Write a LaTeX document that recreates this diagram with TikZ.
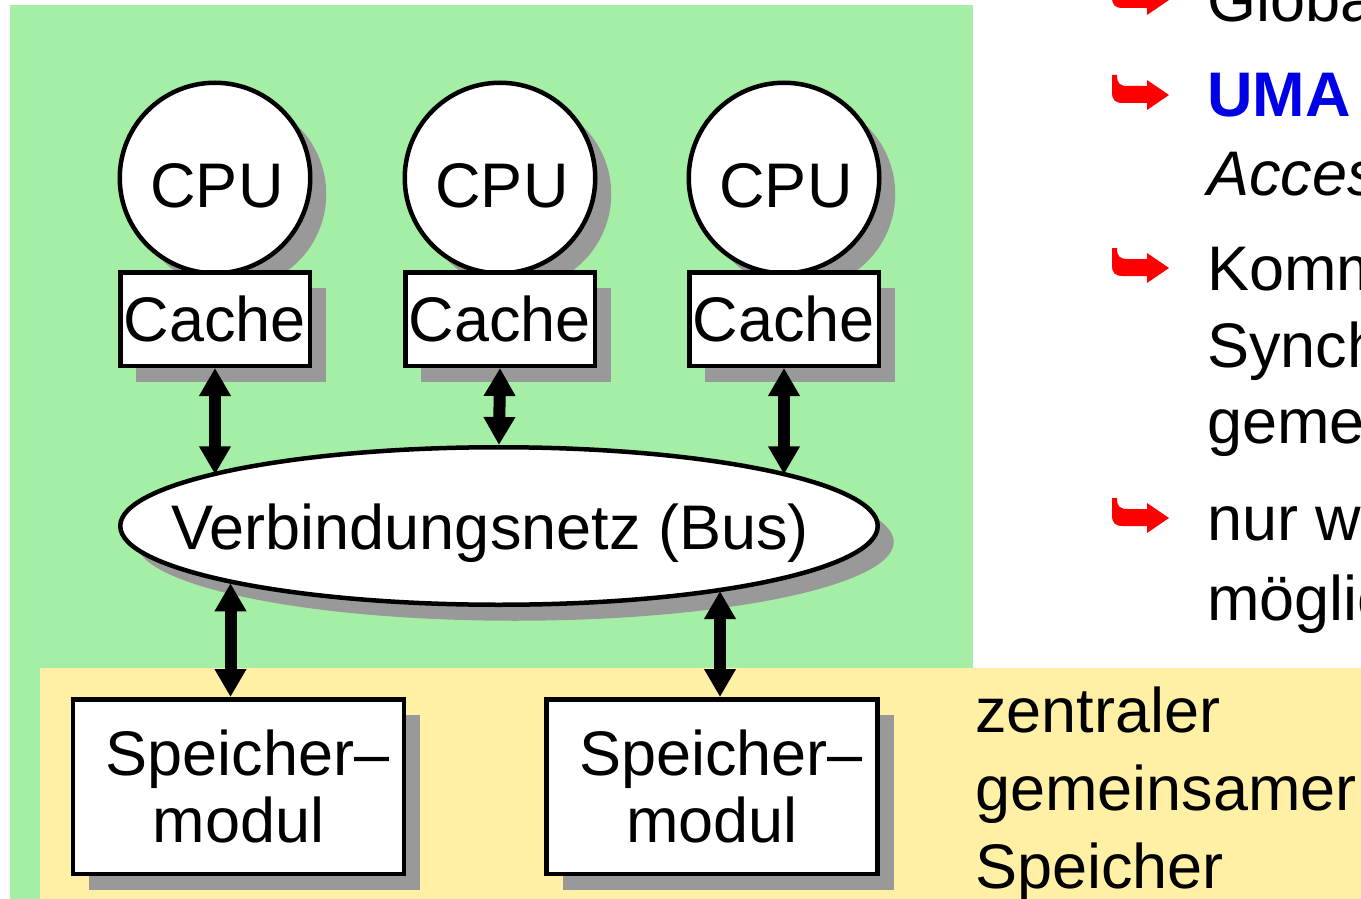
\documentclass[tikz,border=0pt]{standalone}
\usepackage{fontspec}
\setmainfont{Liberation Sans}
\usetikzlibrary{arrows.meta,shapes.geometric,shadows}
\definecolor{bggreen}{RGB}{165,238,165}
\definecolor{bgyellow}{RGB}{255,240,165}
\definecolor{umablue}{RGB}{0,0,230}
\definecolor{shadowgray}{RGB}{153,153,153}
\newcommand{\bigtxt}{\fontsize{63}{78}\selectfont}
\newcommand{\redhook}[1]{%
  \fill[red,shift={(0,#1)}] (1112,-20) -- (1117,-20)
    .. controls (1117,-11) and (1120,-9) .. (1128,-9) -- (1147,-9)
    -- (1147,-15) -- (1169,0) -- (1147,15) -- (1147,8) -- (1123,8)
    .. controls (1115,8) and (1112,5) .. (1112,-3) -- cycle;}

\begin{document}
\begin{tikzpicture}[x=1pt,y=-1pt,
  every node/.style={font=\bigtxt},
  unit/.style={draw,line width=4.5pt,fill=white,inner sep=0pt,
    drop shadow={shadow xshift=16pt,shadow yshift=-16pt,fill=shadowgray,opacity=1}},
  cpu/.style={unit,circle,minimum size=190.5pt,text height=60pt},
  cache/.style={unit,rectangle,minimum width=189.5pt,minimum height=93.5pt},
  mem/.style={unit,rectangle,minimum width=331pt,minimum height=174.5pt,
    align=center,font=\fontsize{63}{67}\selectfont},
  bus/.style={unit,ellipse,minimum width=757.5pt,minimum height=157.5pt},
  link/.style={line width=12pt,{Triangle[width=30pt,length=28pt]}-{Triangle[width=30pt,length=28pt]}},
  txt/.style={anchor=base west,inner sep=0pt}]
\useasboundingbox (0,0) rectangle (1361,899);
\clip (0,0) rectangle (1361,899);
%% background
\fill[bggreen] (10,5) rectangle (973,899);
\fill[bgyellow] (40,668) rectangle (1361,899);
%% processors
\node[cpu] (cpu1) at (215,178) {\hspace*{4pt}CPU};
\node[cpu] (cpu2) at (500,178) {\hspace*{4pt}CPU};
\node[cpu] (cpu3) at (784,178) {\hspace*{4pt}CPU};
\node[cache] (cache1) at (215,319) {Cache};
\node[cache] (cache2) at (500,319) {Cache};
\node[cache] (cache3) at (784,319) {Cache};
%% bus
\node[bus] (bus) at (499,526) {};
\node (buslbl) at (490,533) {Verbindungsnetz (Bus)};
%% memory
\node[mem] (mem1) at (238.5,786.5) {\hspace*{18pt}Speicher–\\modul};
\node[mem] (mem2) at (712,786.5) {\hspace*{18pt}Speicher–\\modul};
\coordinate (m1) at ([xshift=-8pt]mem1.north);
\coordinate (m2) at ([xshift=8pt]mem2.north);
%% links
\draw[link] (cache1.south) -- (cache1.south |- bus.170);
\draw[link] (cache2.south) -- (bus.north);
\draw[link] (cache3.south) -- (cache3.south |- bus.10);
\draw[link] (m1 |- bus.192) -- (m1);
\draw[link] (m2 |- bus.344) -- (m2);
%% label of the memory
\node[txt] (z1) at (975,732) {zentraler};
\node[txt] (z2) at (975,810) {gemeinsamer};
\node[txt] (z3) at (975,888) {Speicher};
%% list on the right
\redhook{0}
\node[txt] (l1) at (1207,22) {Globaler};
\redhook{95}
\node[txt] (l2) at (1207,117) {\textcolor{umablue}{\bfseries UMA}};
\node[txt] (l3) at (1207,195) {\itshape Access};
\redhook{268}
\node[txt] (l4) at (1207,290) {Kommunikation};
\node[txt] (l5) at (1207,367) {Synchronisation};
\node[txt] (l6) at (1207,443) {gemeinsame};
\redhook{518}
\node[txt] (l7) at (1207,540) {nur wenige};
\node[txt] (l8) at (1207,620) {möglich};
\end{tikzpicture}
\end{document}
